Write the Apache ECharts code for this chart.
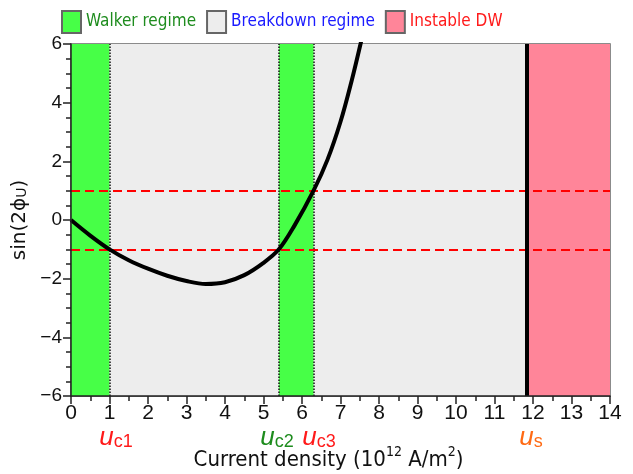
<!DOCTYPE html>
<html>
<head>
<meta charset="utf-8">
<script src="https://cdn.jsdelivr.net/npm/echarts@6/dist/echarts.min.js"></script>
<style>
html,body{margin:0;padding:0;background:#fff;}
#chart{width:633px;height:474px;}
</style>
</head>
<body>
<div id="chart"></div>
<script>
// ---- data ----
const curveX = [0, 0.5, 1, 1.5, 2, 2.5, 3, 3.5, 4, 4.5, 5, 5.4, 5.8, 6.3, 6.66, 7.0, 7.29, 7.52, 7.75];
const curveY = [0, -0.53, -1.0, -1.37, -1.66, -1.9, -2.08, -2.18, -2.12, -1.88, -1.46, -1.0, -0.2, 1.0, 2.05, 3.35, 4.75, 6.0, 7.35];
const walkerBands = [[0, 1], [5.4, 6.3]];
const breakdownBands = [[1, 5.4], [6.3, 11.85]];
const instableBands = [[11.85, 14]];
const bandEdges = [1, 5.4, 6.3];
const uS = 11.85;
const thresholds = [1, -1];
const critLabels = [
  {value: 1.17, sub: 'c1', style: 'r'},
  {value: 5.35, sub: 'c2', style: 'g'},
  {value: 6.44, sub: 'c3', style: 'r'},
  {value: 11.95, sub: 's', style: 'o'}
];
const legendNames = ['Walker regime', 'Breakdown regime', 'Instable DW'];
const xRange = [0, 14];
const yRange = [-6, 6];

const GREEN = '#47ff47', GREY = '#ededed', PINK = '#ff8599';

const chart = echarts.init(document.getElementById('chart'));

function bands(list) {
  return list.map(b => [{xAxis: b[0]}, {xAxis: b[1]}]);
}

const critColors = {r: '#ff1a1a', g: '#1e8c1e', o: '#ff6a14'};
const rich = {};
Object.keys(critColors).forEach(k => {
  rich['u' + k] = {fontFamily: 'Liberation Sans', fontStyle: 'italic', fontSize: 26, lineHeight: 26, color: critColors[k], verticalAlign: 'bottom'};
  rich['s' + k] = {fontFamily: 'Liberation Sans', fontSize: 18, lineHeight: 12, color: critColors[k], verticalAlign: 'bottom'};
});

const tickLine = {color: '#222', width: 1.5};

const option = {
  animation: false,
  backgroundColor: '#fff',
  legend: {
    left: 61, top: 10, padding: 0,
    itemWidth: 19, itemHeight: 22,
    itemGap: 10,
    selectedMode: false,
    icon: 'rect',
    textStyle: {fontFamily: 'DejaVu Sans Condensed', fontSize: 17},
    data: [
      {name: legendNames[0], itemStyle: {color: GREEN, borderColor: '#666', borderWidth: 2}, textStyle: {color: '#1e8c1e'}},
      {name: legendNames[1], itemStyle: {color: GREY, borderColor: '#666', borderWidth: 2}, textStyle: {color: '#1a1aff'}},
      {name: legendNames[2], itemStyle: {color: PINK, borderColor: '#666', borderWidth: 2}, textStyle: {color: '#ff1a1a'}}
    ]
  },
  grid: {left: 71, right: 23, top: 44, bottom: 78, containLabel: false, outerBoundsMode: 'none',
    show: true, borderColor: '#666', borderWidth: 1.5, backgroundColor: 'transparent'},
  xAxis: [{
    type: 'value', min: xRange[0], max: xRange[1], interval: 1, z: 20,
    axisLine: {show: true, onZero: false, lineStyle: tickLine},
    axisTick: {show: true, inside: false, length: 8, lineStyle: tickLine},
    minorTick: {show: true, splitNumber: 2, length: 5, lineStyle: tickLine},
    splitLine: {show: false},
    axisLabel: {fontFamily: 'Liberation Sans Narrow, Liberation Sans', fontSize: 21, color: '#111', margin: 7},
    name: '{t|Current density}{t| (10}{p|12}{t| A/m}{p|2}{t|)}',
    nameLocation: 'middle', nameGap: 49,
    nameTextStyle: {
      padding: [0, 24, 0, 0],
      rich: {
        t: {fontFamily: 'DejaVu Sans Condensed', fontSize: 22, color: '#111', lineHeight: 26, verticalAlign: 'bottom'},
        p: {fontFamily: 'DejaVu Sans Condensed', fontSize: 14, color: '#111', lineHeight: 20, verticalAlign: 'top'}
      }
    }
  }, {
    type: 'value', min: xRange[0], max: xRange[1], position: 'bottom', offset: 29,
    axisLine: {show: false, onZero: false}, axisTick: {show: false}, splitLine: {show: false},
    axisLabel: {
      showMinLabel: true, showMaxLabel: true,
      customValues: critLabels.map(c => c.value),
      formatter: function (v) {
        const c = critLabels.find(d => Math.abs(d.value - v) < 1e-6);
        if (!c) return '';
        return '{u' + c.style + '|u}{s' + c.style + '|' + c.sub + '}';
      },
      rich: rich, margin: 0
    }
  }],
  yAxis: {
    type: 'value', min: yRange[0], max: yRange[1], interval: 2, z: 20,
    axisLine: {show: true, onZero: false, lineStyle: tickLine},
    axisTick: {show: true, inside: false, length: 8, lineStyle: tickLine},
    minorTick: {show: true, splitNumber: 4, length: 5, lineStyle: tickLine},
    splitLine: {show: false},
    axisLabel: {fontFamily: 'Liberation Sans', fontSize: 19, color: '#111', margin: 9,
      formatter: v => (v < 0 ? '\u2212' + Math.abs(v) : String(v))},
    name: '{t|sin(2\u03d5}{s|U}{t|)}',
    nameLocation: 'middle', nameGap: 34, nameRotate: 90,
    nameTextStyle: {
      rich: {
        t: {fontFamily: 'DejaVu Sans', fontSize: 20, color: '#111', lineHeight: 24, verticalAlign: 'bottom'},
        s: {fontFamily: 'DejaVu Sans', fontSize: 14, color: '#111', lineHeight: 10, verticalAlign: 'bottom'}
      }
    }
  },
  series: [
    {name: legendNames[1], type: 'line', data: [], color: GREY, z: 1,
      markArea: {silent: true, itemStyle: {color: GREY}, data: bands(breakdownBands)}},
    {name: legendNames[0], type: 'line', data: [], color: GREEN, z: 1,
      markArea: {silent: true, itemStyle: {color: GREEN}, data: bands(walkerBands)}},
    {name: legendNames[2], type: 'line', data: [], color: PINK, z: 1,
      markArea: {silent: true, itemStyle: {color: PINK}, data: bands(instableBands)}},
    {name: 'edges', type: 'line', data: [], z: 3,
      markLine: {silent: true, symbol: 'none', label: {show: false},
        lineStyle: {color: '#111', type: [1.5, 1.5], width: 1.5},
        data: bandEdges.map(v => ({xAxis: v}))}},
    {name: 'thresholds', type: 'line', data: [], z: 4,
      markLine: {silent: true, symbol: 'none', label: {show: false},
        lineStyle: {color: '#ff0000', type: [9, 5], width: 2},
        data: thresholds.map(v => ({yAxis: v}))}},
    {name: 'us', type: 'line', data: [], z: 4,
      markLine: {silent: true, symbol: 'none', label: {show: false},
        lineStyle: {color: '#000', type: 'solid', width: 4},
        data: [{xAxis: uS}]}},
    {name: 'curve', type: 'line', z: 5, smooth: 0.35, symbol: 'none', clip: true,
      lineStyle: {color: '#000', width: 4},
      data: curveX.map((x, i) => [x, curveY[i]])}
  ]
};
chart.setOption(option);
</script>
</body>
</html>
